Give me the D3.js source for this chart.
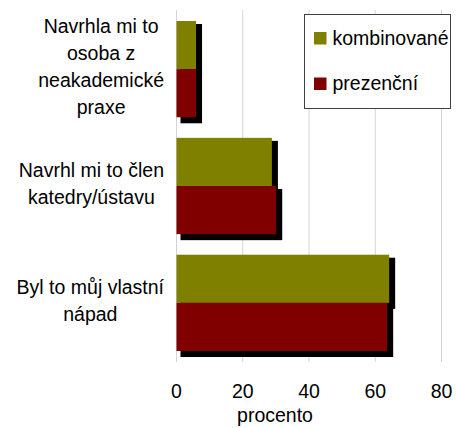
<!DOCTYPE html>
<html lang="cs">
<head>
<meta charset="UTF-8">
<title>procento</title>
<script src="https://d3js.org/d3.v7.min.js"></script>
<style>
  body { margin: 0; background: #fff; }
  svg text { font-family: "Liberation Sans", Arial, sans-serif; font-size: 19.5px; fill: #000; }
</style>
</head>
<body>
<svg id="chart" width="456" height="428"></svg>
<script>
// categories, top to bottom, split into the lines shown on the chart
var categories = ["neakademicka", "katedra", "vlastni"];
var categoryLines = [
  ["Navrhla mi to", "osoba z", "neakademické", "praxe"],
  ["Navrhl mi to člen", "katedry/ústavu"],
  ["Byl to můj vlastní", "nápad"]
];
var series = ["kombinované", "prezenční"];
var kombinovane = [5.9, 28.8, 64.2];
var prezencni = [5.9, 30.1, 63.6];
var xTicks = [0, 20, 40, 60, 80];
var colors = ["#808000", "#800000"];

var svg = d3.select("#chart");

var x = d3.scaleLinear().domain([0, 80]).range([176.5, 441.5]);
var y = d3.scaleBand().domain(categories).range([10, 362])
  .paddingInner(0.176).paddingOuter(0.094);
var ySub = d3.scaleBand().domain(series).range([0, y.bandwidth()]);

var rows = [];
categories.forEach(function(c, i) {
  rows.push({ cat: c, s: series[0], v: kombinovane[i], color: colors[0] });
  rows.push({ cat: c, s: series[1], v: prezencni[i], color: colors[1] });
});

// gridlines
svg.append("g").selectAll("line")
  .data(xTicks).enter().append("line")
  .attr("x1", d => x(d)).attr("x2", d => x(d))
  .attr("y1", 10).attr("y2", 362)
  .attr("stroke", "#d4d4d4").attr("stroke-width", 1);

// shadows first
svg.append("g").selectAll("rect")
  .data(rows).enter().append("rect")
  .attr("x", x(0) + 4)
  .attr("y", d => y(d.cat) + ySub(d.s) + 3)
  .attr("width", d => x(d.v) - x(0) + 2)
  .attr("height", ySub.bandwidth() + 3)
  .attr("fill", "#000");

// bars
svg.append("g").selectAll("rect")
  .data(rows).enter().append("rect")
  .attr("x", x(0))
  .attr("y", d => y(d.cat) + ySub(d.s))
  .attr("width", d => x(d.v) - x(0))
  .attr("height", ySub.bandwidth())
  .attr("fill", d => d.color);

// x tick labels
svg.append("g").selectAll("text")
  .data(xTicks).enter().append("text")
  .attr("x", d => x(d)).attr("y", 398)
  .attr("text-anchor", "middle")
  .text(d => d);

svg.append("text")
  .attr("x", 275).attr("y", 422)
  .attr("text-anchor", "middle")
  .text("procento");

// category labels: block right-aligned to the axis, lines centred inside it
var lineH = 27;
categories.forEach(function(c, i) {
  var lines = categoryLines[i];
  var g = svg.append("g");
  var cy = y(c) + y.bandwidth() / 2 - 2;
  var texts = g.selectAll("text").data(lines).enter().append("text")
    .attr("text-anchor", "middle")
    .attr("dy", "0.35em")
    .attr("y", (d, k) => cy + (k - (lines.length - 1) / 2) * lineH)
    .text(d => d);
  var maxW = 0;
  texts.each(function() { maxW = Math.max(maxW, this.getComputedTextLength()); });
  texts.attr("x", 164 - maxW / 2);
});

// legend
var legend = svg.append("g");
legend.append("rect")
  .attr("x", 304.5).attr("y", 14.5)
  .attr("width", 146).attr("height", 94)
  .attr("fill", "#fff").attr("stroke", "#404040").attr("stroke-width", 1);
series.forEach(function(s, i) {
  var by = 32 + i * 45.5;
  legend.append("rect")
    .attr("x", 314).attr("y", by)
    .attr("width", 12.5).attr("height", 12.5)
    .attr("fill", colors[i]);
  legend.append("text")
    .attr("x", 332.5).attr("y", by + 12.5)
    .text(s);
});
</script>
</body>
</html>
